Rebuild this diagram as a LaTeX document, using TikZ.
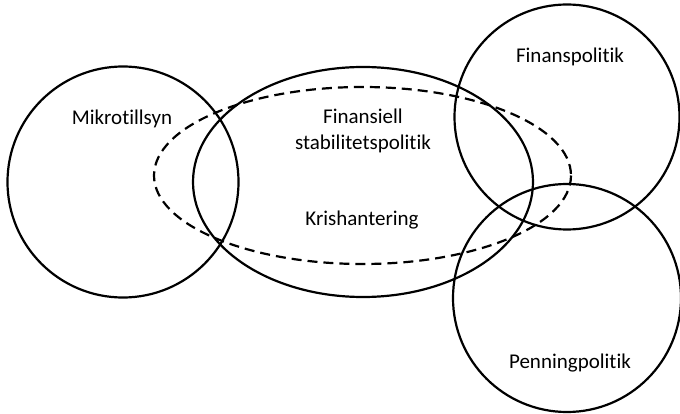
\documentclass[tikz,border=0pt]{standalone}
\usepackage{fontspec}
\setmainfont{Carlito}[Ligatures=NoCommon]
\begin{document}
\begin{tikzpicture}[x=1pt,y=-1pt,
  ring/.style={draw=black,line width=2.2pt},
  scopeline/.style={draw=black,line width=2.2pt,dash pattern=on 10pt off 6pt},
  lbl/.style={font=\fontsize{21}{26}\selectfont,align=center,inner sep=0pt}]
\useasboundingbox (0,0) rectangle (680,414);
% policy areas
\draw[ring] (123,182) circle[radius=115.5];
\draw[ring] (363,182) ellipse[x radius=170,y radius=115];
\draw[scopeline] (362.5,175.5) ellipse[x radius=208.5,y radius=88.5];
\draw[ring] (567,117) circle[radius=112.5];
\draw[ring] (567,298) circle[radius=114];
% labels
\node[lbl] (mikro) at (122,119) {Mikrotillsyn};
\node[lbl] (fin) at (570,57) {Finanspolitik};
\node[lbl] (penn) at (570,363) {Penningpolitik};
\node[lbl] (stab) at (363,131) {Finansiell\\stabilitetspolitik};
\node[lbl] (kris) at (362,220) {Krishantering};
\end{tikzpicture}
\end{document}
